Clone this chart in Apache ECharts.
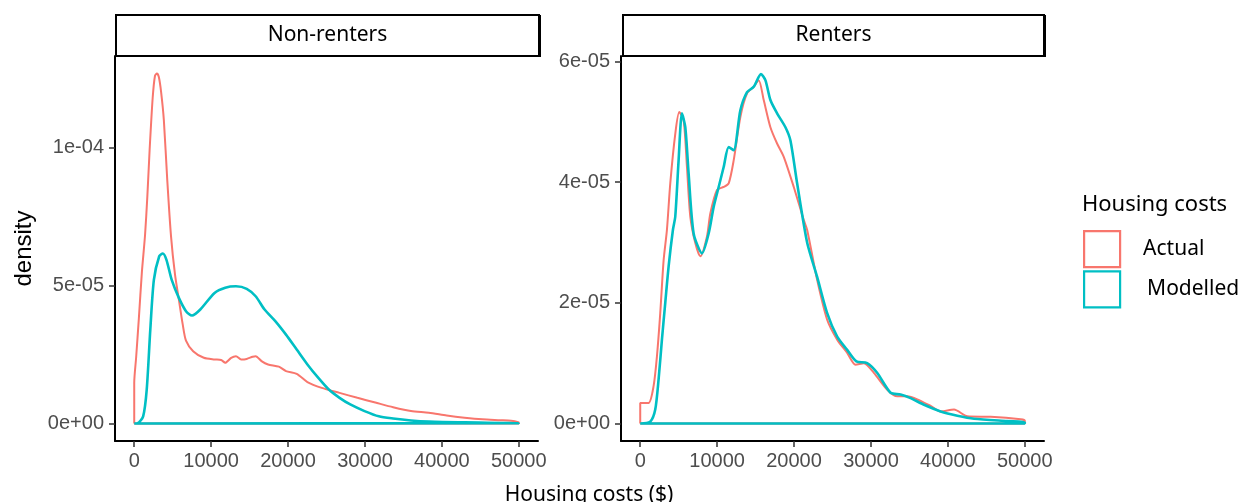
<!DOCTYPE html>
<html><head><meta charset="utf-8">
<script src="https://cdn.jsdelivr.net/npm/echarts@6/dist/echarts.min.js"></script>
<style>html,body{margin:0;padding:0;background:#fff}#c{width:1241px;height:502px}</style>
</head><body><div id="c"></div>
<script>
// ---- data ----
const panels = ['Non-renters', 'Renters'];
const seriesNames = ['Actual', 'Modelled'];
const xTicks = [0, 10000, 20000, 30000, 40000, 50000];
const xTickLabels = ['0', '10000', '20000', '30000', '40000', '50000'];
const yTicksNonRenters = [0, 5e-5, 1e-4];
const yTickLabelsNonRenters = ['0e+00', '5e-05', '1e-04'];
const yTicksRenters = [0, 2e-5, 4e-5, 6e-5];
const yTickLabelsRenters = ['0e+00', '2e-05', '4e-05', '6e-05'];

const nonRentersActualX = [0, 250, 600, 1000, 1400, 1700, 2000, 2400, 2700, 2950, 3200, 3500, 3850, 4300, 4780, 5300, 5800, 6300, 6730, 7660, 9050, 10450, 11300, 11840, 12600, 13230, 13900, 14625, 15400, 15786, 16600, 17400, 18800, 19733, 21126, 22519, 24376, 26697, 29018, 31340, 33661, 35983, 38304, 40625, 42946, 45268, 47589, 49000, 50000];
const nonRentersActualY = [1.47e-5, 2.4e-5, 3.8e-5, 5.5e-5, 6.8e-5, 8.2e-5, 9.9e-5, 1.18e-4, 1.26e-4, 1.268e-4, 1.255e-4, 1.2e-4, 1.1e-4, 8.8e-5, 6.8e-5, 5.4e-5, 4.5e-5, 3.6e-5, 3.0e-5, 2.62e-5, 2.38e-5, 2.32e-5, 2.3e-5, 2.2e-5, 2.38e-5, 2.44e-5, 2.32e-5, 2.34e-5, 2.42e-5, 2.44e-5, 2.25e-5, 2.14e-5, 2.06e-5, 1.9e-5, 1.8e-5, 1.5e-5, 1.29e-5, 1.11e-5, 9.3e-6, 7.6e-6, 5.9e-6, 4.5e-6, 3.9e-6, 2.9e-6, 2.1e-6, 1.5e-6, 1.2e-6, 1.0e-6, 4e-7];

const nonRentersModelledX = [0, 460, 1160, 1625, 2090, 2554, 3250, 3714, 4180, 4875, 5804, 6732, 7520, 8590, 10446, 11840, 13232, 14625, 15786, 16947, 18340, 19733, 21126, 22519, 23912, 25305, 26697, 28090, 29947, 31805, 33661, 35983, 38304, 42946, 50000];
const nonRentersModelledY = [0, 1e-7, 2.6e-6, 1.23e-5, 3.4e-5, 5.2e-5, 6.06e-5, 6.16e-5, 5.94e-5, 5.2e-5, 4.55e-5, 4.07e-5, 3.91e-5, 4.13e-5, 4.73e-5, 4.92e-5, 4.97e-5, 4.88e-5, 4.61e-5, 4.13e-5, 3.71e-5, 3.22e-5, 2.68e-5, 2.14e-5, 1.66e-5, 1.23e-5, 9.3e-6, 6.9e-6, 4.5e-6, 2.6e-6, 1.8e-6, 1.1e-6, 7e-7, 4e-7, 1e-7];

const rentersActualX = [0, 1085, 1736, 2170, 2604, 3038, 3472, 3906, 4557, 5078, 5640, 6076, 6510, 7161, 7812, 8680, 9114, 9982, 10850, 11500, 12150, 13020, 13888, 14756, 15406, 16057, 16926, 17794, 18662, 19964, 21266, 21700, 23004, 24306, 25608, 26910, 27993, 29080, 30380, 32120, 33420, 34720, 36030, 37760, 39060, 40800, 42530, 45570, 49480, 50000];
const rentersActualY = [3.4e-6, 3.4e-6, 6.2e-6, 1.11e-5, 1.83e-5, 2.7e-5, 3.21e-5, 3.98e-5, 4.8e-5, 5.16e-5, 5.03e-5, 4.25e-5, 3.43e-5, 2.99e-5, 2.77e-5, 3.1e-5, 3.48e-5, 3.87e-5, 3.92e-5, 3.98e-5, 4.36e-5, 5.08e-5, 5.47e-5, 5.58e-5, 5.69e-5, 5.36e-5, 4.91e-5, 4.64e-5, 4.42e-5, 3.92e-5, 3.37e-5, 3.21e-5, 2.38e-5, 1.72e-5, 1.39e-5, 1.17e-5, 9.75e-6, 1.0e-5, 8.4e-6, 5.6e-6, 4.5e-6, 4.5e-6, 4.0e-6, 2.9e-6, 2.0e-6, 2.3e-6, 1.2e-6, 1.1e-6, 7e-7, 5e-7];

const rentersModelledX = [0, 1300, 1953, 2387, 2821, 3255, 3689, 4253, 4557, 4990, 5425, 5860, 6293, 6944, 8030, 8897, 9548, 10200, 10850, 11500, 12150, 13020, 13888, 14756, 15700, 16274, 16926, 17794, 18880, 19530, 20400, 21700, 23004, 24306, 25608, 26910, 28100, 29500, 30800, 32550, 33850, 35150, 36900, 39060, 41230, 43400, 47740, 50000];
const rentersModelledY = [0, 3e-7, 2.3e-6, 7.3e-6, 1.39e-5, 2.0e-5, 2.6e-5, 3.21e-5, 3.43e-5, 4.36e-5, 5.14e-5, 4.91e-5, 4.14e-5, 3.15e-5, 2.82e-5, 3.15e-5, 3.59e-5, 3.92e-5, 4.25e-5, 4.58e-5, 4.53e-5, 5.19e-5, 5.49e-5, 5.58e-5, 5.79e-5, 5.69e-5, 5.36e-5, 5.14e-5, 4.91e-5, 4.69e-5, 3.98e-5, 3.0e-5, 2.43e-5, 1.83e-5, 1.44e-5, 1.22e-5, 1.03e-5, 1.0e-5, 8.4e-6, 5.1e-6, 4.8e-6, 4.2e-6, 3.1e-6, 2.0e-6, 1.3e-6, 8e-7, 4e-7, 2e-7];

const colors = ['#F8766D', '#00BFC4'];

// ---- build ----
function polygon(xs, ys) {
  // ggplot geom_density outline: closed down to the baseline
  const pts = [[xs[0], 0]];
  for (let i = 0; i < xs.length; i++) pts.push([xs[i], ys[i]]);
  pts.push([xs[xs.length - 1], 0]);
  pts.push([xs[0], 0]);
  return pts;
}
function labelFor(ticks, labels) {
  return function (v) {
    for (let i = 0; i < ticks.length; i++) if (Math.abs(v - ticks[i]) < 1e-12) return labels[i];
    return '';
  };
}

const gridTop = 56, gridH = 385, gridW = 423;
const gridLefts = [115, 621];
const tickFont = {color: '#4d4d4d', fontFamily: 'Liberation Sans', fontSize: 20};

function xAxis(i) {
  return {
    type: 'value', gridIndex: i, min: -2500, max: 52500,
    axisLine: {onZero: false, lineStyle: {color: '#000', width: 2}},
    axisTick: {customValues: xTicks, length: 6, lineStyle: {color: '#333', width: 1.5}},
    axisLabel: Object.assign({customValues: xTicks, margin: 10, formatter: labelFor(xTicks, xTickLabels)}, tickFont),
    splitLine: {show: false}
  };
}
function yAxis(i, min, max, ticks, labels, name) {
  return {
    type: 'value', gridIndex: i, min: min, max: max,
    name: name || '', nameLocation: 'middle', nameGap: 79,
    nameTextStyle: {fontFamily: 'Liberation Sans', fontSize: 24, color: '#000'},
    axisLine: {onZero: false, lineStyle: {color: '#000', width: 2}},
    axisTick: {customValues: ticks, length: 6, lineStyle: {color: '#333', width: 1.5}},
    axisLabel: Object.assign({customValues: ticks, margin: 11, formatter: labelFor(ticks, labels)}, tickFont),
    splitLine: {show: false}
  };
}
function line(name, idx, data, color, width) {
  return {
    name: name, type: 'line', xAxisIndex: idx, yAxisIndex: idx, data: data,
    showSymbol: false, symbol: 'none', smooth: 0.25, smoothMonotone: 'none',
    lineStyle: {color: color, width: width}, itemStyle: {color: color},
    silent: true, animation: false
  };
}

const option = {
  backgroundColor: '#fff',
  animation: false,
  grid: gridLefts.map(l => ({left: l, top: gridTop, width: gridW, height: gridH, containLabel: false})),
  xAxis: [xAxis(0), xAxis(1)],
  yAxis: [
    yAxis(0, -6.34e-6, 1.3314e-4, yTicksNonRenters, yTickLabelsNonRenters, 'density'),
    yAxis(1, -2.9e-6, 6.09e-5, yTicksRenters, yTickLabelsRenters, '')
  ],
  series: [
    line(seriesNames[0], 0, polygon(nonRentersActualX, nonRentersActualY), colors[0], 2),
    line(seriesNames[0], 1, polygon(rentersActualX, rentersActualY), colors[0], 2),
    line(seriesNames[1], 0, polygon(nonRentersModelledX, nonRentersModelledY), colors[1], 2.6),
    line(seriesNames[1], 1, polygon(rentersModelledX, rentersModelledY), colors[1], 2.6)
  ],
  legend: {
    orient: 'vertical', left: 1083, top: 230, padding: 0, itemWidth: 36, itemHeight: 36, itemGap: 2,
    selectedMode: false, icon: 'rect',
    textStyle: {fontFamily: 'Noto Sans', fontSize: 21, color: '#000'},
    data: [
      {name: seriesNames[0], icon: 'rect', itemStyle: {color: 'rgba(255,255,255,0)', borderColor: colors[0], borderWidth: 2.2}, textStyle: {padding: [0, 0, 5, 18]}},
      {name: seriesNames[1], icon: 'rect', itemStyle: {color: 'rgba(255,255,255,0)', borderColor: colors[1], borderWidth: 2.2}, textStyle: {padding: [0, 0, 8, 22]}}
    ]
  },
  graphic: [
    {type: 'rect', shape: {x: 116, y: 15, width: 423, height: 41}, style: {fill: '#fff', stroke: '#000', lineWidth: 2}},
    {type: 'line', shape: {x1: 539.5, y1: 15, x2: 539.5, y2: 57}, style: {stroke: '#000', lineWidth: 3}},
    {type: 'text', x: 327.5, y: 35, style: {text: panels[0], fontFamily: 'Noto Sans', fontSize: 21, fill: '#000', align: 'center', verticalAlign: 'middle'}},
    {type: 'rect', shape: {x: 623, y: 15, width: 421, height: 41}, style: {fill: '#fff', stroke: '#000', lineWidth: 2}},
    {type: 'line', shape: {x1: 1044.5, y1: 15, x2: 1044.5, y2: 57}, style: {stroke: '#000', lineWidth: 3}},
    {type: 'text', x: 833.5, y: 35, style: {text: panels[1], fontFamily: 'Noto Sans', fontSize: 21, fill: '#000', align: 'center', verticalAlign: 'middle'}},
    {type: 'text', x: 589, y: 495, style: {text: 'Housing costs ($)', fontFamily: 'Noto Sans', fontSize: 21, fill: '#000', align: 'center', verticalAlign: 'middle'}},
    {type: 'text', x: 1082, y: 205, style: {text: 'Housing costs', fontFamily: 'Noto Sans', fontSize: 22, fill: '#000', align: 'left', verticalAlign: 'middle'}}
  ]
};

const chart = echarts.init(document.getElementById('c'), null, {renderer: 'canvas'});
chart.setOption(option);
</script>
</body></html>
